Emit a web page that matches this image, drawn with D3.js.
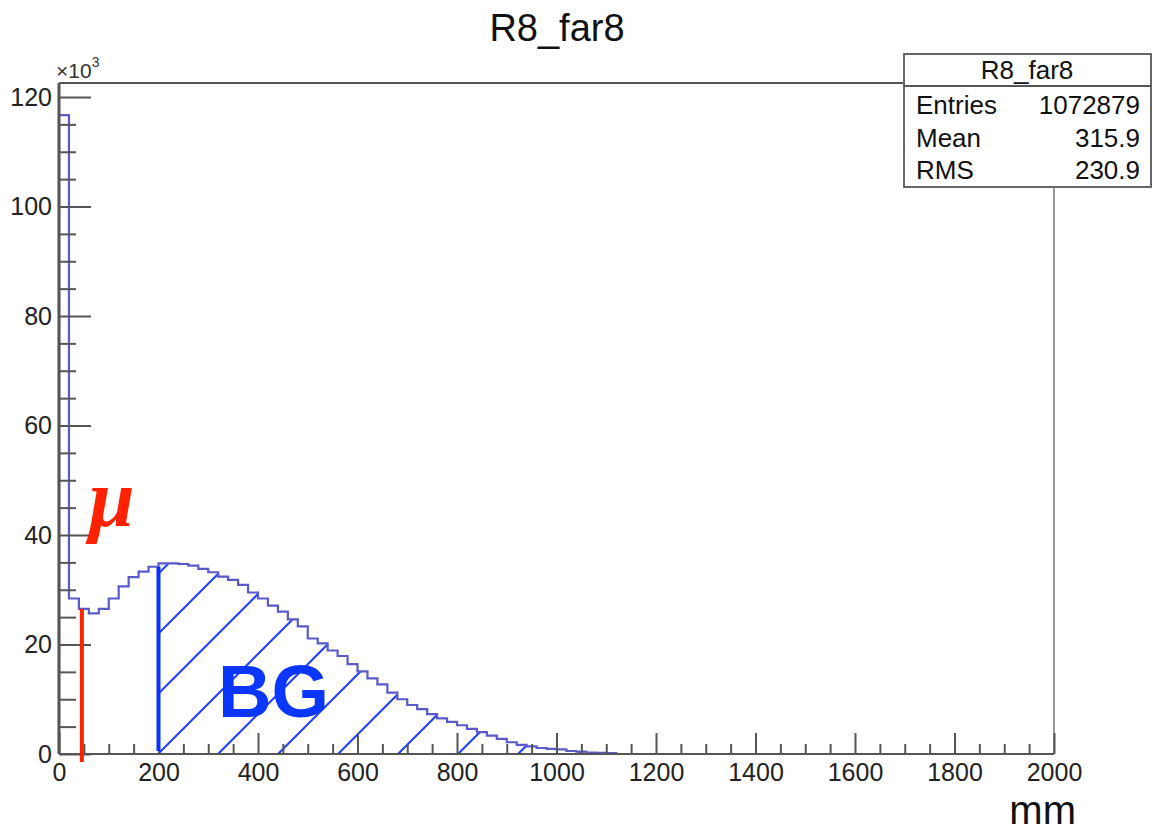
<!DOCTYPE html>
<html>
<head>
<meta charset="utf-8">
<script src="https://cdn.jsdelivr.net/npm/d3@7.9.0/dist/d3.min.js"></script>
<style>
  body { margin: 0; background: #fff; }
  svg { display: block; font-family: "Liberation Sans", Arial, sans-serif; }
  .axis path, .axis line { stroke: #555; }
  .axis text { fill: #222; font-size: 25px; font-family: "Liberation Sans", Arial, sans-serif; }
</style>
</head>
<body>
<svg id="chart" width="1155" height="834"></svg>
<script>
// histogram R8_far8, 20 mm bins from 0, counts in thousands
const binWidth = 20;
const counts = [
  116.7, 28.4, 26.5, 25.7, 26.5, 28.4, 30.6, 32.3, 33.3, 34.2,
  34.8, 34.8, 34.7, 34.4, 33.8, 33.2, 32.4, 31.8, 30.9, 29.5,
  28.4, 27.1, 26.0, 24.6, 23.3, 21.1, 20.2, 18.9, 17.9, 16.4,
  15.1, 13.8, 12.7, 11.2, 10.0, 8.95, 8.2, 7.3, 6.5, 5.85,
  5.25, 4.6, 4.0, 3.35, 2.75, 2.15, 1.65, 1.4, 1.1, 0.95,
  0.85, 0.55, 0.45, 0.25, 0.2, 0.15
];
const xTicks = [0, 200, 400, 600, 800, 1000, 1200, 1400, 1600, 1800, 2000];
const yTicks = [0, 20, 40, 60, 80, 100, 120];
const muCut = 46;   // red line, mm
const bgStart = 200; // blue line / hatched region start, mm
const statsRows = [['Entries', '1072879'], ['Mean', '315.9'], ['RMS', '230.9']];
const title = 'R8_far8';

const svg = d3.select('#chart');
svg.append('rect').attr('width', 1155).attr('height', 834).attr('fill', '#fff');

const x = d3.scaleLinear().domain([0, 2000]).range([59, 1054]);
const y = d3.scaleLinear().domain([0, 122.56]).range([754, 83]);

// hatch pattern
const defs = svg.append('defs');
defs.append('pattern')
  .attr('id', 'hatch')
  .attr('patternUnits', 'userSpaceOnUse')
  .attr('x', 12).attr('y', 0)
  .attr('width', 60).attr('height', 60)
  .append('path')
  .attr('d', 'M0,60 L60,0 M-30,30 L30,-30 M30,90 L90,30')
  .attr('stroke', '#1f3cff')
  .attr('stroke-width', 2);

// frame
svg.append('line').attr('x1', x(0)).attr('x2', x(2000)).attr('y1', y.range()[1]).attr('y2', y.range()[1])
  .attr('stroke', '#555').attr('stroke-width', 2);
svg.append('line').attr('x1', x(2000)).attr('x2', x(2000)).attr('y1', y.range()[1]).attr('y2', y(0))
  .attr('stroke', '#999').attr('stroke-width', 2);

// hatched BG area
const bgStartBin = bgStart / binWidth;
let area = `M${x(bgStart)},${y(0)}`;
counts.forEach((c, i) => {
  if (i < bgStartBin) return;
  area += `L${x(i * binWidth)},${y(c)}L${x((i + 1) * binWidth)},${y(c)}`;
});
area += `L${x(counts.length * binWidth)},${y(0)}Z`;
svg.append('path').attr('d', area).attr('fill', 'url(#hatch)');

// histogram outline
let outline = `M${x(0)},${y(0)}`;
counts.forEach((c, i) => {
  outline += `L${x(i * binWidth)},${y(c)}L${x((i + 1) * binWidth)},${y(c)}`;
});
outline += `L${x(counts.length * binWidth)},${y(0)}`;
svg.append('path').attr('d', outline)
  .attr('fill', 'none').attr('stroke', '#5a5acb').attr('stroke-width', 2.2);

// axes
const yMinor = d3.range(0, 121, 5).filter((v) => v % 20 !== 0);
const xMinor = d3.range(0, 2001, 50).filter((v) => v % 200 !== 0);

svg.append('g').attr('class', 'axis').attr('transform', `translate(${x(0)},0)`)
  .call(d3.axisLeft(y).tickValues(yMinor).tickSize(-17).tickFormat(''))
  .call((g) => g.select('.domain').remove())
  .selectAll('line').attr('stroke-width', 2);
svg.append('g').attr('class', 'axis').attr('transform', `translate(${x(0)},0)`)
  .call(d3.axisLeft(y).tickValues(yTicks).tickSize(-32).tickPadding(7).tickFormat(d3.format('d')))
  .call((g) => g.select('.domain').attr('stroke', '#999').attr('stroke-width', 3).attr('d', `M0,${y(0)}V${y.range()[1]}`))
  .selectAll('line').attr('stroke-width', 2);

svg.append('g').attr('class', 'axis').attr('transform', `translate(0,${y(0)})`)
  .call(d3.axisBottom(x).tickValues(xMinor).tickSize(-10).tickFormat(''))
  .call((g) => g.select('.domain').remove())
  .selectAll('line').attr('stroke-width', 2);
svg.append('g').attr('class', 'axis').attr('transform', `translate(0,${y(0)})`)
  .call(d3.axisBottom(x).tickValues(xTicks).tickSize(-21).tickPadding(9).tickFormat(d3.format('d')))
  .call((g) => g.select('.domain').attr('stroke-width', 2).attr('d', `M${x(0)},0H${x(2000)}`))
  .selectAll('line').attr('stroke-width', 2);

// cut lines
svg.append('line')
  .attr('x1', x(muCut)).attr('x2', x(muCut))
  .attr('y1', y(counts[Math.floor(muCut / binWidth)])).attr('y2', y(0) + 8)
  .attr('stroke', '#ff2200').attr('stroke-width', 4);
svg.append('line')
  .attr('x1', x(bgStart)).attr('x2', x(bgStart))
  .attr('y1', y(counts[bgStartBin - 1])).attr('y2', y(0) - 3)
  .attr('stroke', '#0a32ff').attr('stroke-width', 4);

// annotations
svg.append('text').attr('x', 89).attr('y', 526)
  .attr('font-size', 82).attr('font-style', 'italic').attr('font-weight', 'bold')
  .attr('font-family', '"Liberation Serif", serif')
  .attr('fill', '#ff2200').text('\u03bc');
svg.append('text').attr('x', 218).attr('y', 717)
  .attr('font-size', 74).attr('font-weight', 'bold')
  .attr('fill', '#0a36ff').text('BG');

// title and exponent
svg.append('text').attr('x', 557).attr('y', 41).attr('text-anchor', 'middle')
  .attr('font-size', 38).attr('fill', '#111').text(title);
const expo = svg.append('text').attr('x', 56).attr('y', 78).attr('font-size', 21).attr('fill', '#333');
expo.append('tspan').text('\u00d710');
expo.append('tspan').attr('dy', -11).attr('font-size', 14).text('3');
svg.append('text').attr('x', 1076).attr('y', 824).attr('text-anchor', 'end')
  .attr('font-size', 40).attr('fill', '#111').text('mm');

// stats box
const box = svg.append('g');
box.append('rect').attr('x', 904).attr('y', 54).attr('width', 247).attr('height', 133)
  .attr('fill', '#fff').attr('stroke', '#666').attr('stroke-width', 2);
box.append('line').attr('x1', 904).attr('x2', 1151).attr('y1', 86).attr('y2', 86)
  .attr('stroke', '#555').attr('stroke-width', 2);
box.append('text').attr('x', 1027).attr('y', 79).attr('text-anchor', 'middle')
  .attr('font-size', 26).attr('fill', '#111').text(title);
statsRows.forEach(([k, v], i) => {
  const by = 114 + i * 32.5;
  box.append('text').attr('x', 916).attr('y', by).attr('font-size', 26).attr('fill', '#111').text(k);
  box.append('text').attr('x', 1140).attr('y', by).attr('text-anchor', 'end')
    .attr('font-size', 26).attr('fill', '#111').text(v);
});
</script>
</body>
</html>
